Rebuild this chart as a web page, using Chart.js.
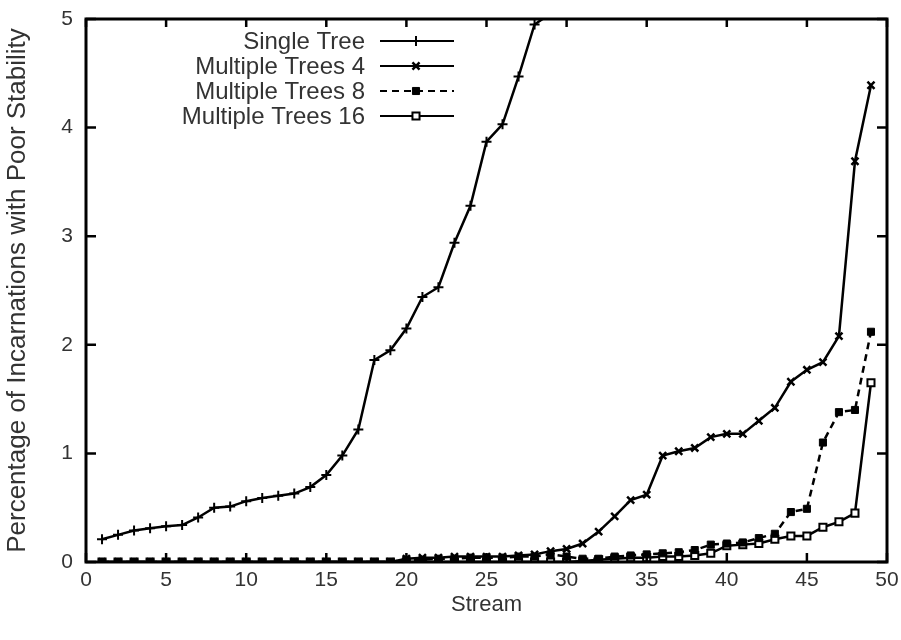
<!DOCTYPE html>
<html>
<head>
<meta charset="utf-8">
<script src="https://cdn.jsdelivr.net/npm/chart.js@4.4.1/dist/chart.umd.min.js"></script>
<style>
  html, body { margin: 0; padding: 0; background: #fff; }
  #wrap { width: 901px; height: 640px; }
</style>
</head>
<body>
<div id="wrap"><canvas id="stabilityChart" width="901" height="640"></canvas></div>
<script>
// stream index on the x axis
const streams = [1, 2, 3, 4, 5, 6, 7, 8, 9, 10, 11, 12, 13, 14, 15, 16, 17, 18, 19, 20,
                 21, 22, 23, 24, 25, 26, 27, 28, 29, 30, 31, 32, 33, 34, 35, 36, 37, 38, 39, 40,
                 41, 42, 43, 44, 45, 46, 47, 48, 49];

// percentage of incarnations with poor stability, per stream
const singleTree = [0.21, 0.25, 0.29, 0.31, 0.33, 0.34, 0.41, 0.50, 0.51, 0.56,
                    0.59, 0.61, 0.63, 0.69, 0.80, 0.98, 1.22, 1.86, 1.95, 2.15,
                    2.44, 2.53, 2.94, 3.28, 3.87, 4.03, 4.47, 4.95, 5.05];
const multiTrees4 = [0, 0, 0, 0, 0, 0, 0, 0, 0, 0,
                     0, 0, 0, 0, 0, 0, 0, 0, 0, 0.03,
                     0.04, 0.04, 0.05, 0.05, 0.05, 0.05, 0.06, 0.07, 0.10, 0.12,
                     0.17, 0.28, 0.42, 0.57, 0.62, 0.98, 1.02, 1.05, 1.15, 1.18,
                     1.18, 1.30, 1.42, 1.66, 1.77, 1.84, 2.08, 3.69, 4.39];
const multiTrees8 = [0, 0, 0, 0, 0, 0, 0, 0, 0, 0,
                     0, 0, 0, 0, 0, 0, 0, 0, 0, 0.02,
                     0.02, 0.03, 0.03, 0.04, 0.04, 0.04, 0.05, 0.05, 0.07, 0.05,
                     0.03, 0.03, 0.05, 0.06, 0.07, 0.08, 0.09, 0.11, 0.16, 0.17,
                     0.18, 0.22, 0.26, 0.46, 0.49, 1.10, 1.38, 1.40, 2.12];
const multiTrees16 = [0, 0, 0, 0, 0, 0, 0, 0, 0, 0,
                      0, 0, 0, 0, 0, 0, 0, 0, 0, 0,
                      0, 0, 0, 0, 0, 0, 0, 0, 0, 0,
                      0.01, 0.02, 0.03, 0.04, 0.04, 0.05, 0.05, 0.06, 0.08, 0.15,
                      0.16, 0.17, 0.21, 0.24, 0.24, 0.32, 0.37, 0.45, 1.65];

const seriesLabels = ['Single Tree', 'Multiple Trees 4', 'Multiple Trees 8', 'Multiple Trees 16'];
const xTicks = [0, 5, 10, 15, 20, 25, 30, 35, 40, 45, 50];
const yTicks = [0, 1, 2, 3, 4, 5];

const INK = '#000';
const TEXT = '#333';
const sans = '"Liberation Sans", Arial, sans-serif';

function toPoints(values) {
    return values.map((v, i) => ({ x: streams[i], y: v }));
}

const datasets = [
    { label: seriesLabels[0], data: toPoints(singleTree), pointStyle: 'cross', pointRadius: 5,
      pointBorderWidth: 2, borderDash: [] },
    { label: seriesLabels[1], data: toPoints(multiTrees4), pointStyle: 'crossRot', pointRadius: 5,
      pointBorderWidth: 2.5, borderDash: [] },
    { label: seriesLabels[2], data: toPoints(multiTrees8), pointStyle: 'rect', pointRadius: 5,
      pointBorderWidth: 1, borderDash: [7, 5], pointBackgroundColor: INK },
    { label: seriesLabels[3], data: toPoints(multiTrees16), pointStyle: 'rect', pointRadius: 5,
      pointBorderWidth: 2, borderDash: [], pointBackgroundColor: '#fff' }
].map(ds => Object.assign({
    borderColor: INK,
    borderWidth: 2.5,
    pointBorderColor: INK,
    pointBackgroundColor: INK,
    tension: 0,
    fill: false
}, ds));

// gnuplot style box: heavy frame with inward tick marks on all four sides
const frameTicks = {
    id: 'frameTicks',
    afterDatasetsDraw(chart) {
        const { ctx, chartArea: a, scales: { x, y } } = chart;
        ctx.save();
        ctx.strokeStyle = INK;
        ctx.lineWidth = 2.5;
        ctx.beginPath();
        xTicks.forEach(v => {
            const px = x.getPixelForValue(v);
            ctx.moveTo(px, a.bottom); ctx.lineTo(px, a.bottom - 9);
            ctx.moveTo(px, a.top); ctx.lineTo(px, a.top + 8);
        });
        yTicks.forEach(v => {
            const py = y.getPixelForValue(v);
            ctx.moveTo(a.left, py); ctx.lineTo(a.left + 10, py);
            ctx.moveTo(a.right, py); ctx.lineTo(a.right - 10, py);
        });
        ctx.stroke();
        ctx.lineWidth = 3;
        ctx.strokeRect(a.left, a.top, a.right - a.left, a.bottom - a.top);
        ctx.restore();
    }
};

// key in the upper left: right aligned text, line sample with its marker
const keyBox = {
    id: 'keyBox',
    afterDraw(chart) {
        const { ctx } = chart;
        const textRight = 365, lineStart = 380, lineEnd = 454, markX = 416;
        ctx.save();
        ctx.font = '24px ' + sans;
        ctx.textAlign = 'right';
        ctx.textBaseline = 'middle';
        chart.data.datasets.forEach((ds, i) => {
            const rowY = 41 + i * 25;
            ctx.fillStyle = TEXT;
            ctx.fillText(ds.label, textRight, rowY + 1);
            ctx.strokeStyle = INK;
            ctx.lineWidth = 2;
            ctx.setLineDash(ds.borderDash);
            ctx.beginPath();
            ctx.moveTo(lineStart, rowY);
            ctx.lineTo(lineEnd, rowY);
            ctx.stroke();
            ctx.setLineDash([]);
            ctx.fillStyle = ds.pointBackgroundColor;
            ctx.lineWidth = ds.pointBorderWidth;
            Chart.helpers.drawPoint(ctx, {
                pointStyle: ds.pointStyle,
                radius: ds.pointRadius,
                rotation: 0,
                borderWidth: ds.pointBorderWidth
            }, markX, rowY);
        });
        ctx.restore();
    }
};

new Chart(document.getElementById('stabilityChart'), {
    type: 'line',
    data: { datasets },
    plugins: [frameTicks, keyBox],
    options: {
        responsive: false,
        animation: false,
        devicePixelRatio: 1,
        layout: { padding: { top: 19, right: 14, left: 0, bottom: 0 } },
        plugins: {
            legend: { display: false },
            tooltip: { enabled: false }
        },
        scales: {
            x: {
                type: 'linear',
                min: 0,
                max: 50,
                afterBuildTicks: s => { s.ticks = xTicks.map(v => ({ value: v })); },
                afterFit: s => { s.height = 78; s.paddingLeft = 0; s.paddingRight = 0; },
                grid: { display: false, drawTicks: false },
                border: { display: false },
                ticks: { color: TEXT, padding: 6, font: { family: sans, size: 21 } },
                title: {
                    display: true,
                    text: 'Stream',
                    color: TEXT,
                    font: { family: sans, size: 22 },
                    padding: { top: 0, bottom: 22 }
                }
            },
            y: {
                min: 0,
                max: 5,
                afterBuildTicks: s => { s.ticks = yTicks.map(v => ({ value: v })); },
                afterFit: s => { s.width = 86; s.paddingTop = 0; s.paddingBottom = 0; },
                grid: { display: false, drawTicks: false },
                border: { display: false },
                ticks: { color: TEXT, padding: 13, font: { family: sans, size: 21 } },
                title: {
                    display: true,
                    text: 'Percentage of Incarnations with Poor Stability',
                    color: TEXT,
                    font: { family: sans, size: 26 },
                    padding: { top: 2, bottom: 0 }
                }
            }
        }
    }
});
</script>
</body>
</html>
